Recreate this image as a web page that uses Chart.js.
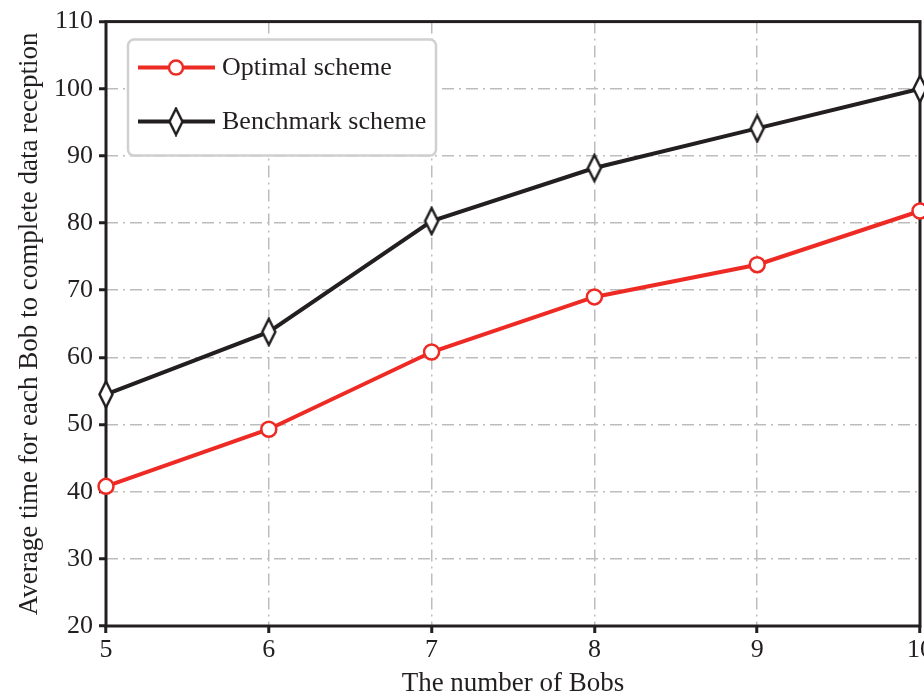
<!DOCTYPE html>
<html>
<head>
<meta charset="utf-8">
<script src="https://cdn.jsdelivr.net/npm/chart.js@4"></script>
<style>
  html, body { margin: 0; padding: 0; background: #fff; }
  #wrap { width: 924px; height: 700px; }
</style>
</head>
<body>
<div id="wrap"><canvas id="chart" width="924" height="700"></canvas></div>
<script>
// Data
const bobs = [5, 6, 7, 8, 9, 10];
const optimalTime = [40.8, 49.3, 60.8, 69.0, 73.8, 81.8];
const benchmarkTime = [54.5, 63.8, 80.3, 88.2, 94.1, 100.0];
const yTicks = [20, 30, 40, 50, 60, 70, 80, 90, 100, 110];

const RED = '#ee2a24';
const BLACK = '#231f20';
const FONT = "'Liberation Serif', 'Times New Roman', serif";

// tall narrow diamond marker
function makeDiamond() {
    const c = document.createElement('canvas');
    c.width = 18; c.height = 30;
    const g = c.getContext('2d');
    g.fillStyle = '#fff';
    g.strokeStyle = BLACK;
    g.lineWidth = 2.5;
    g.beginPath();
    g.moveTo(9, 2);
    g.lineTo(15.5, 15);
    g.lineTo(9, 28);
    g.lineTo(2.5, 15);
    g.closePath();
    g.fill();
    g.stroke();
    return c;
}
const diamond = makeDiamond();

// draw the full box round the plot
const boxPlugin = {
    id: 'box',
    beforeDatasetsDraw(chart) {
        const a = chart.chartArea, ctx = chart.ctx;
        ctx.save();
        ctx.strokeStyle = BLACK;
        ctx.lineWidth = 3;
        ctx.strokeRect(a.left, a.top, a.right - a.left, a.bottom - a.top);
        ctx.restore();
    }
};

// legend inside the plot, top-left, with rounded grey frame
const legendPlugin = {
    id: 'innerLegend',
    afterDatasetsDraw(chart) {
        const a = chart.chartArea, ctx = chart.ctx;
        const x = a.left + 22, y = a.top + 18, w = 308, h = 116;
        ctx.save();
        ctx.fillStyle = '#fff';
        ctx.strokeStyle = '#d0d0d0';
        ctx.lineWidth = 2.5;
        ctx.beginPath();
        ctx.roundRect(x, y, w, h, 6);
        ctx.fill();
        ctx.stroke();
        chart.data.datasets.forEach((ds, i) => {
            const cy = y + 28 + i * 54;
            ctx.strokeStyle = ds.borderColor;
            ctx.lineWidth = 4;
            ctx.beginPath();
            ctx.moveTo(x + 10, cy);
            ctx.lineTo(x + 87, cy);
            ctx.stroke();
            const mx = x + 48;
            if (ds.pointStyle === 'circle') {
                ctx.fillStyle = '#fff';
                ctx.lineWidth = 2.5;
                ctx.beginPath();
                ctx.arc(mx, cy, 7, 0, Math.PI * 2);
                ctx.fill();
                ctx.stroke();
            } else {
                ctx.drawImage(diamond, mx - 9, cy - 15);
            }
            ctx.fillStyle = BLACK;
            ctx.font = '26px ' + FONT;
            ctx.textBaseline = 'middle';
            ctx.textAlign = 'left';
            ctx.fillText(ds.label, x + 94, cy + 1);
        });
        ctx.restore();
    }
};

const ctx = document.getElementById('chart').getContext('2d');
const chart = new Chart(ctx, {
    type: 'line',
    data: {
        datasets: [
            {
                label: 'Optimal scheme',
                data: bobs.map((b, i) => ({ x: b, y: optimalTime[i] })),
                borderColor: RED,
                backgroundColor: '#fff',
                borderWidth: 4,
                pointStyle: 'circle',
                pointRadius: 7.5,
                pointBorderWidth: 2.5,
                pointBackgroundColor: '#fff',
                pointBorderColor: RED,
                tension: 0,
                clip: false
            },
            {
                label: 'Benchmark scheme',
                data: bobs.map((b, i) => ({ x: b, y: benchmarkTime[i] })),
                borderColor: BLACK,
                backgroundColor: '#fff',
                borderWidth: 4,
                pointStyle: diamond,
                pointRadius: 9,
                tension: 0,
                clip: false
            }
        ]
    },
    options: {
        responsive: false,
        animation: false,
        events: [],
        layout: {
            autoPadding: false,
            padding: { left: 0, top: 20, right: 4, bottom: 0 }
        },
        scales: {
            x: {
                type: 'linear',
                min: 5,
                max: 10,
                afterFit(scale) {
                    scale.height = 74;
                    scale.paddingLeft = 0;
                    scale.paddingRight = 0;
                },
                afterBuildTicks(scale) { scale.ticks = bobs.map(v => ({ value: v })); },
                ticks: {
                    color: BLACK,
                    font: { family: FONT, size: 26 },
                    padding: 2,
                    maxRotation: 0
                },
                grid: {
                    color: '#bdbdbd',
                    lineWidth: 1.5,
                    drawTicks: true,
                    tickLength: 7,
                    tickColor: BLACK,
                    tickWidth: 3
                },
                border: { display: false, dash: [12, 5, 2, 5] },
                title: {
                    display: true,
                    text: 'The number of Bobs',
                    color: BLACK,
                    font: { family: FONT, size: 27 },
                    padding: { top: 0, bottom: 0 }
                }
            },
            y: {
                min: 20,
                max: 110,
                afterFit(scale) { scale.width = 106; },
                afterBuildTicks(scale) { scale.ticks = yTicks.map(v => ({ value: v })); },
                ticks: {
                    color: BLACK,
                    font: { family: FONT, size: 26 },
                    padding: 6
                },
                grid: {
                    color: '#bdbdbd',
                    lineWidth: 1.5,
                    drawTicks: true,
                    tickLength: 7,
                    tickColor: BLACK,
                    tickWidth: 3
                },
                border: { display: false, dash: [12, 5, 2, 5] },
                title: {
                    display: true,
                    text: 'Average time for each Bob to complete data reception',
                    color: BLACK,
                    font: { family: FONT, size: 27 },
                    padding: { top: 14, bottom: 0 }
                }
            }
        },
        plugins: {
            legend: { display: false },
            tooltip: { enabled: false }
        }
    },
    plugins: [boxPlugin, legendPlugin]
});
</script>
</body>
</html>
